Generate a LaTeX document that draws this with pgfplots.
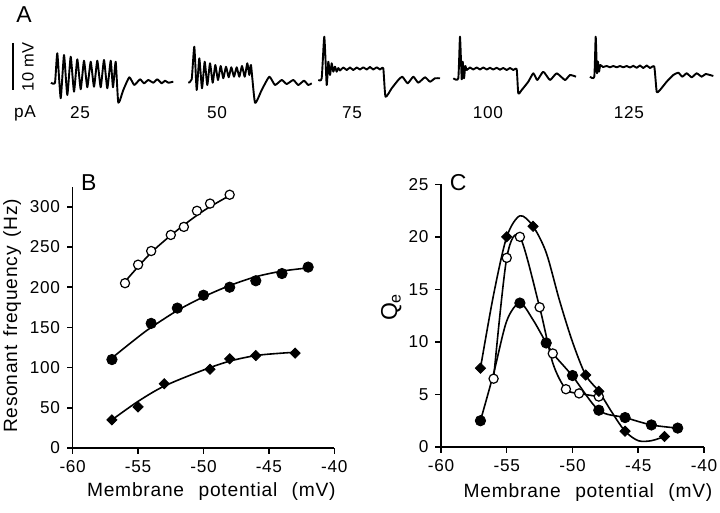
\documentclass[border=0pt]{standalone}
\usepackage{pgfplots}
\pgfplotsset{compat=1.18}
\usepackage{fontspec}
\setmainfont{Liberation Sans}[LetterSpace=4]
\begin{document}
\begin{tikzpicture}
\path[use as bounding box] (0,0) rectangle (360pt,-256.5pt);
\tikzset{atext/.style={font=\fontsize{8.6}{10}\selectfont}}
\pgfplotsset{
  panel/.style={
    scale only axis, clip=false,
    axis lines*=left, axis line style={-, line width=0.75pt},
    every tick/.style={black, line width=0.75pt},
    tick align=outside, major tick length=2.8pt,
    xmin=-60, xmax=-40, xtick={-60,-55,...,-40},
    tick label style={font=\fontsize{8.6}{10}\selectfont},
    /pgf/number format/assume math mode=true,
    label style={font=\fontsize{9.6}{11}\selectfont},
  },
  fitline/.style={black, line width=0.8pt, smooth, no marks},
  ocirc/.style={only marks, mark=*, mark size=2.3pt, mark options={fill=white, draw=black, line width=0.6pt}},
  fcirc/.style={only marks, mark=*, mark size=2.6pt, mark options={fill=black, draw=black}},
  fdiam/.style={only marks, mark=square*, mark size=1.8pt, mark options={fill=black, draw=black, rotate=45}},
  trace/.style={black, line width=0.95pt, line join=round, no marks},
}
% ---------------- Panel A ----------------
\begin{axis}[scale only axis, at={(0pt,0pt)}, anchor=north west,
  width=360pt, height=65pt, xmin=0, xmax=720, ymin=0, ymax=130, y dir=reverse,
  axis lines=none, clip=false]
\addplot[trace] coordinates {(13,43)(13,90)};
\addplot[trace, smooth, tension=0.3] coordinates {(51,82.7)(55,82.7)(57.3,53.3)(60.7,98.3)(64,55)(67.3,95)(70.7,56.7)(74,91.7)(77.3,59.3)(80.7,89.3)(84,60.7)(87.3,87.3)(90.7,61.7)(94,86.7)(97.3,60.7)(100.7,87.3)(104,60)(107.3,88.3)(110.7,60.7)(113,87.3)(115.7,61.7)(118.3,102.7)(123.3,90)(129.3,77.3)(134.3,85)(140,79.3)(144,83.3)(148.3,80)(153.3,82.7)(157.3,79.3)(161.7,83.3)(165,80.7)(168.3,82.7)(173.3,81.7)};
\addplot[trace, smooth, tension=0.3] coordinates {(188.3,82.7)(191.7,79.3)(194.3,46.7)(196.7,90)(199.3,58.3)(202,88.3)(204.7,61.7)(207.3,85)(210,63.3)(212.7,82.7)(215.3,65)(218,80)(220.7,66)(223.3,78.3)(226,66.7)(228.7,77.3)(231.3,67.3)(234,76.7)(236.7,67.3)(239.3,76.7)(242,66)(244.7,76.7)(247.3,63.3)(249.3,75)(251,65)(255,102.7)(261.7,90)(269.3,76.7)(275,85)(281.7,80)(286.7,84)(293.3,80)(298.3,85)(304,80.7)(308.3,85)(311.7,83.3)};
\addplot[trace, smooth, tension=0.3] coordinates {(318.3,80)(321.7,78.3)(324.3,36.7)(326.7,85)(328.3,61.7)(330,75)(331.7,63.3)(333.3,71.7)(335,66.7)(336.7,71.7)(338.3,68)(340,70.5)(343.3,67.5)(346.7,70)(350,67.5)(353.3,70)(356.7,67.5)(360,69.5)(363.3,67.3)(366.7,69.5)(370,67)(373.3,69.5)(376.7,67.3)(380,69.5)(383.3,68.5)(385.5,96.7)(391.7,88.3)(398.3,80)(402.3,76.7)(407.7,83.3)(413.3,76.7)(418.3,82.7)(425,77.3)(430,81.7)(435,78.3)(440,78.3)};
\addplot[trace, smooth, tension=0.3] coordinates {(453.3,78.3)(458.3,78.3)(460,36.7)(461.7,79.3)(462.7,61.7)(464,78.3)(465.3,66)(466.7,70)(470,67.5)(473.3,69.5)(476.7,67.5)(480,69.5)(483.3,67.5)(486.7,69.5)(490,67.8)(493.3,69.5)(496.7,67.8)(500,69.7)(503.3,68)(506.7,70)(510,68)(513.3,70)(516.7,69.3)(518.3,93.3)(521.7,90)(528.3,81.7)(533.3,73.3)(537.3,80)(543.3,71.7)(550,80)(556.7,73.3)(565,80)(570,75)(576,76.7)};
\addplot[trace, smooth, tension=0.3] coordinates {(590,76.7)(594.3,76.7)(595.7,36.7)(597,73.3)(598,61.7)(599,71.7)(600.3,65)(603,67)(606.7,66)(610,67.3)(613.3,66)(616.7,67.3)(620,66)(623.3,67.3)(626.7,66)(630,67.5)(633.3,65.8)(636.7,67.8)(640,65.5)(643.3,68)(646.7,65.5)(650,68)(654.3,66.7)(656.7,91.7)(660,90)(666.7,81.7)(673.3,75)(678.3,72.7)(682.3,76.7)(686.7,73.3)(691.7,77.3)(696.7,73.3)(701.7,76.7)(705.7,74)(713.3,76)};
\node[font=\fontsize{11.5}{13}\selectfont] at (axis cs:24,15) {A};
\node[font=\fontsize{8.2}{9}\selectfont, rotate=90] at (axis cs:28,67) {10 mV};
\node[atext] at (axis cs:25,113) {pA};
\node[atext] at (axis cs:80,113) {25};
\node[atext] at (axis cs:217,113) {50};
\node[atext] at (axis cs:352,113) {75};
\node[atext] at (axis cs:488,113) {100};
\node[atext] at (axis cs:629,113) {125};
\end{axis}
% ---------------- Panel B ----------------
\begin{axis}[panel, at={(36.35pt,-224pt)}, anchor=south west,
  width=130.8pt, height=130.65pt, ymin=0, ymax=325, ytick={0,50,...,300},
  xlabel={Membrane\hspace{0.75em}potential\hspace{0.75em}(mV)},
  ylabel={Resonant\hspace{0.45em}frequency\hspace{0.45em}(Hz)},
  xlabel style={at={(axis description cs:0.53,-0.1875)}, anchor=base},
  ylabel style={at={(axis description cs:-0.2125,0.505)}, anchor=base}]
\addplot[fitline] coordinates {(-56,207)(-54,243)(-52,271)(-50,295)(-48,314)};
\addplot[fitline] coordinates {(-57,112)(-55,138)(-54,150)(-52,171)(-50,188)(-48,202)(-46,213)(-44,220)(-42,224)};
\addplot[fitline] coordinates {(-57,35)(-55,58)(-53,77)(-50,97)(-48,108)(-46,115)(-44,118)(-43,119)};
\addplot[ocirc] coordinates {(-56,205)(-55,228)(-54,245)(-52.5,265)(-51.5,275)(-50.5,295)(-49.5,304)(-48,315)};
\addplot[fcirc] coordinates {(-57,110)(-54,155)(-52,174)(-50,190)(-48,200)(-46,208)(-44,217)(-42,225)};
\addplot[fdiam] coordinates {(-57,35)(-55,51)(-53,80)(-49.5,98)(-48,111)(-46,115)(-43,118)};
\node[font=\fontsize{11.5}{13}\selectfont] at (axis description cs:0.062,1.014) {B};
\end{axis}
% ---------------- Panel C ----------------
\begin{axis}[panel, at={(220.5pt,-223.5pt)}, anchor=south west,
  width=131.5pt, height=131.35pt, ymin=0, ymax=25, ytick={0,5,...,25},
  xlabel={Membrane\hspace{0.75em}potential\hspace{0.75em}(mV)},
  ylabel={\fontsize{11.5}{13}\selectfont Q\textsubscript{e}},
  xlabel style={at={(axis description cs:0.559,-0.194)}, anchor=base},
  ylabel style={at={(axis description cs:-0.167,0.533)}, anchor=base}]
\addplot[fitline] coordinates {(-57,7.5)(-56,14.5)(-55,20)(-54,22)(-53,21)(-52,18.5)(-51,14)(-50,10)(-49,6.85)(-48,5.3)(-47,3.3)(-46,1.5)(-45,0.6)(-44,0.6)(-43,1)};
\addplot[fitline] coordinates {(-56,6.5)(-55,18)(-54,20)(-52.5,13.3)(-51.5,8)(-50.5,5.5)(-49.5,5.1)(-48,4.8)};
\addplot[fitline] coordinates {(-57,2.5)(-56,7)(-55,12)(-54,13.7)(-53,12.1)(-52,9.9)(-51.5,8.9)(-50,6.75)(-48,3.5)(-46,2.8)(-44,2.1)(-42,1.8)};
\addplot[ocirc] coordinates {(-56,6.5)(-55,18)(-54,20)(-52.5,13.3)(-51.5,8.9)(-50.5,5.5)(-49.5,5.1)(-48,4.8)};
\addplot[fcirc] coordinates {(-57,2.5)(-54,13.7)(-52,9.9)(-50,6.8)(-48,3.5)(-46,2.8)(-44,2.1)(-42,1.8)};
\addplot[fdiam] coordinates {(-57,7.5)(-55,20)(-53,21)(-49,6.85)(-48,5.3)(-46,1.5)(-43,1)};
\node[font=\fontsize{11.5}{13}\selectfont] at (axis description cs:0.065,1.005) {C};
\end{axis}
\end{tikzpicture}
\end{document}
